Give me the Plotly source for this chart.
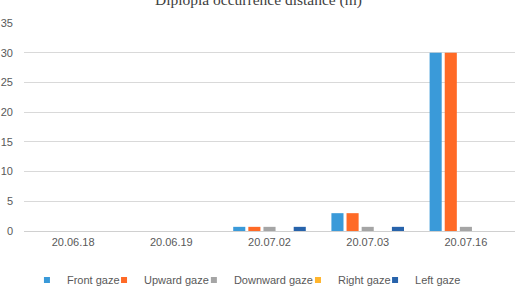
import plotly.graph_objects as go

dates = ["20.06.18", "20.06.19", "20.07.02", "20.07.03", "20.07.16"]
front = [0, 0, 0.7, 3, 30]
upward = [0, 0, 0.7, 3, 30]
downward = [0, 0, 0.7, 0.7, 0.7]
right = [0, 0, 0, 0, 0]
left = [0, 0, 0.7, 0.7, 0]

series = [
    ("Front gaze", front, "#3A9AD9"),
    ("Upward gaze", upward, "#FF6A26"),
    ("Downward gaze", downward, "#A5A5A5"),
    ("Right gaze", right, "#FFB52E"),
    ("Left gaze", left, "#2763AB"),
]
# paper x of each legend entry's left edge
legend_x = [0.006, 0.163, 0.346, 0.558, 0.715]

fig = go.Figure()
layout_legends = {}
for i, ((name, vals, color), lx) in enumerate(zip(series, legend_x)):
    key = "legend" if i == 0 else f"legend{i+1}"
    fig.add_trace(go.Bar(x=dates, y=vals, name=name, showlegend=False,
                         marker=dict(color=color, line=dict(width=0))))
    # legend proxy with a small square swatch
    fig.add_trace(go.Scatter(x=[None], y=[None], mode="markers", name=name, legend=key,
                             marker=dict(symbol="square", size=6, color=color),
                             hoverinfo="skip"))
    layout_legends[key] = dict(orientation="h", x=lx, xanchor="left", y=-0.235, yanchor="middle",
                               font=dict(size=11, color="#595959"), itemwidth=30,
                               bgcolor="rgba(0,0,0,0)")

fig.update_layout(
    width=517, height=295,
    margin=dict(l=24, r=2, t=23, b=64, autoexpand=False),
    paper_bgcolor="white", plot_bgcolor="white",
    barmode="group", bargap=0.23, bargroupgap=0.2,
    title=dict(text="Diplopia occurrence distance (m)", x=0.5, xanchor="center",
               yref="container", y=1.0, yanchor="middle", pad=dict(t=0, b=0),
               font=dict(family="Liberation Serif", size=15.5, color="#404040")),
    font=dict(family="Liberation Sans", size=11, color="#595959"),
    showlegend=True,
    xaxis=dict(showline=False, ticks="", tickfont=dict(size=11, color="#595959"),
               ticklabelstandoff=3),
    yaxis=dict(range=[0, 35], dtick=5, gridcolor="#D9D9D9", gridwidth=1,
               zeroline=True, zerolinecolor="#D0D0D0", zerolinewidth=1,
               tickfont=dict(size=11, color="#595959"), ticklen=0, ticks="",
               ticklabelstandoff=10, showline=False),
    **layout_legends,
)

fig.write_html("out.html")
